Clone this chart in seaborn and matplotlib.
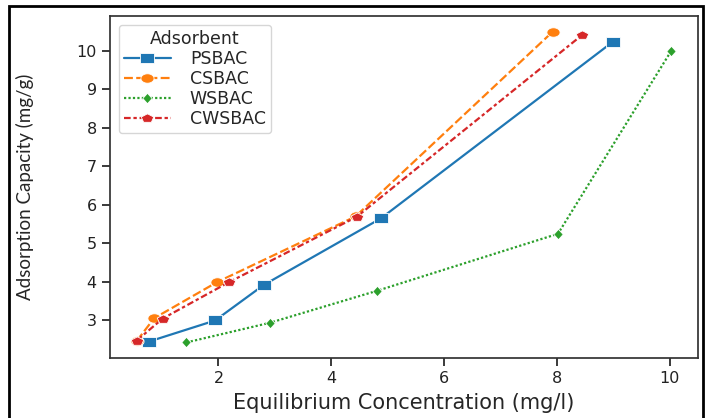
import matplotlib
matplotlib.use("Agg")
import matplotlib.pyplot as plt
import seaborn as sns
import pandas as pd
import numpy as np
from matplotlib.patches import Rectangle

adsorbents = ["PSBAC", "CSBAC", "WSBAC", "CWSBAC"]
psbac_x = [0.76, 1.94, 2.80, 4.88, 8.99]
psbac_y = [2.45, 3.00, 3.92, 5.65, 10.23]
csbac_x = [0.55, 0.86, 1.98, 4.43, 7.93]
csbac_y = [2.47, 3.06, 4.00, 5.70, 10.50]
wsbac_x = [1.43, 2.91, 4.81, 8.02, 10.03]
wsbac_y = [2.43, 2.94, 3.77, 5.25, 10.00]
cwsbac_x = [0.55, 1.01, 2.18, 4.45, 8.44]
cwsbac_y = [2.48, 3.05, 3.99, 5.69, 10.40]

xs = [psbac_x, csbac_x, wsbac_x, cwsbac_x]
ys = [psbac_y, csbac_y, wsbac_y, cwsbac_y]
rows = []
for name, xv, yv in zip(adsorbents, xs, ys):
    for a, b in zip(xv, yv):
        rows.append({"x": a, "y": b, "Adsorbent": name})
df = pd.DataFrame(rows)

# horizontally widened marker shapes (reference image is stretched)
sx = 1.4
square = [(-sx, -1), (sx, -1), (sx, 1), (-sx, 1), (-sx, -1)]
t = np.linspace(0, 2 * np.pi, 41)
ellipse = [(sx * np.cos(a), np.sin(a)) for a in t]
diamond = [(0, -1), (0.9, 0), (0, 1), (-0.9, 0), (0, -1)]
tp = np.pi / 2 + np.arange(6) * 2 * np.pi / 5
pentagon = [(sx * np.cos(a), np.sin(a)) for a in tp]
marker_list = [square, ellipse, diamond, pentagon]
msizes = {"PSBAC": 10.0, "CSBAC": 9.5, "WSBAC": 7.5, "CWSBAC": 9.0}

sns.set_theme(style="ticks")
fig = plt.figure(figsize=(7.07, 4.18), dpi=100)
ax = fig.add_axes([110/707, 1-358/418, (698-110)/707, (358-16)/418])

sns.lineplot(data=df, x="x", y="y", hue="Adsorbent", style="Adsorbent",
             hue_order=adsorbents, style_order=adsorbents, palette="tab10",
             markers=marker_list, dashes=True, markersize=8,
             linewidth=1.6, ax=ax)

for line, name in zip(ax.lines, adsorbents):
    line.set_markersize(msizes[name])
    line.set_markeredgewidth(0.6)

ax.set_xticks([2, 4, 6, 8, 10])
ax.set_yticks([3, 4, 5, 6, 7, 8, 9, 10])
ax.tick_params(labelsize=11.5, colors="#222222")
for s in ax.spines.values():
    s.set_color("#333333")
ax.set_xlabel("Equilibrium Concentration (mg/l)", fontsize=15, labelpad=5)
ax.set_ylabel("Adsorption Capacity (mg/g)", fontsize=13.5, family=["Lato", "DejaVu Sans"])
ax.yaxis.set_label_coords(-(110 - 34) / 588, 0.5)

leg = ax.legend(title="Adsorbent", loc="upper left", fontsize=12.5, title_fontsize=12.5,
                handlelength=2.7, handletextpad=1.1, labelspacing=0.12,
                borderpad=0.3, bbox_to_anchor=(0.0, 1.0))
for h, name in zip(leg.legend_handles, adsorbents):
    h.set_markersize(msizes[name])
    h.set_markeredgewidth(0.6)

fig.patches.append(Rectangle((9/707, -0.01), (703-9)/707, 1-6/418+0.01,
                             transform=fig.transFigure, fill=False,
                             edgecolor="black", linewidth=2))
fig.savefig("out.png", dpi=100)
